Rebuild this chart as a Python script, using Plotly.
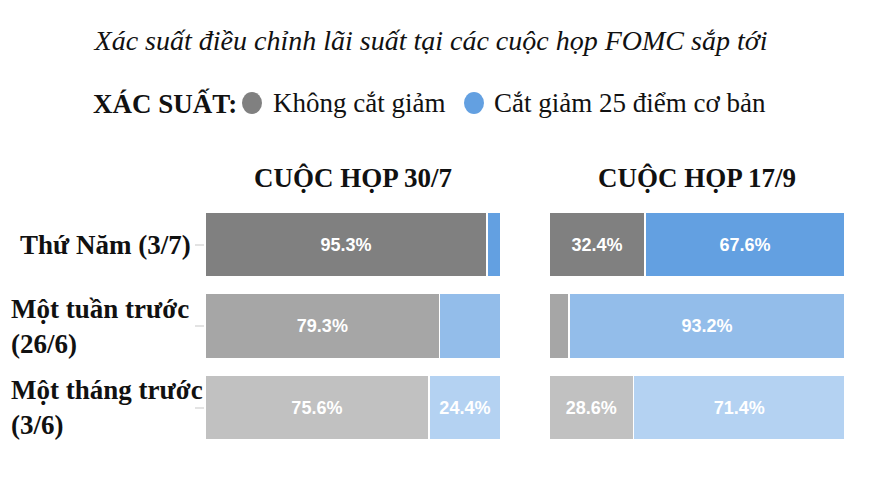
import plotly.graph_objects as go

rows = ["Thứ Năm (3/7)", "Một tuần trước<br>(26/6)", "Một tháng trước<br>(3/6)"]
meetings = ["CUỘC HỌP 30/7", "CUỘC HỌP 17/9"]
no_cut = {"CUỘC HỌP 30/7": [95.3, 79.3, 75.6], "CUỘC HỌP 17/9": [32.4, 6.8, 28.6]}
cut25 = {"CUỘC HỌP 30/7": [4.7, 20.7, 24.4], "CUỘC HỌP 17/9": [67.6, 93.2, 71.4]}
series_names = ["Không cắt giảm", "Cắt giảm 25 điểm cơ bản"]
legend_title = "XÁC SUẤT:"
chart_title = "Xác suất điều chỉnh lãi suất tại các cuộc họp FOMC sắp tới"

grey_shades = ["#808080", "#a6a6a6", "#c1c1c1"]
blue_shades = ["#63a0e1", "#93bdea", "#b4d2f2"]

W, H = 872, 493
SERIF = "Liberation Serif, Times New Roman, serif"
SANS = "Liberation Sans, Arial, sans-serif"
INK = "#111111"

domains = [(205 / W, 501 / W), (549 / W, 845 / W)]
ydom = (1 - 448.25 / H, 1 - 203.75 / H)

fig = go.Figure()

def lbl(v):
    return f"{v}%" if v >= 24 else ""

for i, m in enumerate(meetings):
    xa = "x" if i == 0 else "x2"
    for vals, colors in ((no_cut[m], grey_shades), (cut25[m], blue_shades)):
        fig.add_trace(go.Bar(
            y=rows, x=vals, orientation="h", xaxis=xa, yaxis="y" if i == 0 else "y2",
            marker=dict(color=colors, line=dict(color="white", width=1.5)),
            text=[lbl(v) for v in vals], textposition="inside", insidetextanchor="middle",
            textfont=dict(family=SANS, size=18, color="white", weight="bold"),
            width=0.8, showlegend=False, hoverinfo="skip",
        ))

fig.update_layout(
    width=W, height=H, margin=dict(l=0, r=0, t=0, b=0),
    paper_bgcolor="white", plot_bgcolor="white",
    barmode="stack", bargap=0.2, showlegend=False,
    uniformtext=dict(minsize=10, mode="show"),
    xaxis=dict(domain=domains[0], range=[0, 100], visible=False, anchor="y"),
    xaxis2=dict(domain=domains[1], range=[0, 100], visible=False, anchor="y2"),
    yaxis=dict(domain=ydom, categoryorder="array", categoryarray=rows, range=[2.5, -0.5],
               showticklabels=False, ticks="outside", ticklen=9, tickcolor="#e3e3e3",
               tickwidth=2, showgrid=False, zeroline=False, showline=False, anchor="x"),
    yaxis2=dict(domain=ydom, categoryorder="array", categoryarray=rows, range=[2.5, -0.5],
                visible=False, anchor="x2"),
    title=dict(text=chart_title,
               font=dict(family=SERIF, size=28, color=INK, style="italic"),
               x=431 / W, xanchor="center", y=1 - 40 / H, yanchor="middle"),
)

# legend row (annotations + circle markers)
ly = 1 - 103 / H
fig.add_annotation(text=f"<b>{legend_title}</b>", xref="paper", yref="paper", x=91 / W, y=ly,
                   xanchor="left", yanchor="middle", showarrow=False,
                   font=dict(family=SERIF, size=27, color=INK))
for name, c, cx, tx in zip(series_names, [grey_shades[0], blue_shades[0]], [252, 474], [271, 492]):
    fig.add_shape(type="circle", xref="paper", yref="paper", xsizemode="pixel", ysizemode="pixel",
                  xanchor=cx / W, yanchor=ly, x0=-10, x1=10, y0=-11, y1=11,
                  fillcolor=c, line=dict(width=0))
    fig.add_annotation(text=name, xref="paper", yref="paper", x=tx / W, y=ly,
                       xanchor="left", yanchor="middle", showarrow=False,
                       font=dict(family=SERIF, size=27, color=INK))

for i, m in enumerate(meetings):
    fig.add_annotation(text=f"<b>{m}</b>", xref="paper", yref="paper",
                       x=(domains[i][0] + domains[i][1]) / 2, y=1 - 178 / H,
                       xanchor="center", yanchor="middle", showarrow=False,
                       font=dict(family=SERIF, size=27, color=INK))

label_pos = [(193, "right"), (9, "left"), (9, "left")]
for r, (px, anc) in zip(rows, label_pos):
    fig.add_annotation(text=f"<b>{r}</b>", xref="paper", yref="y", x=px / W, y=r,
                       xanchor=anc, yanchor="middle", align="left", showarrow=False,
                       font=dict(family=SERIF, size=27, color=INK))

fig.write_html("out.html", config={"displayModeBar": False},
               post_script="document.body.style.margin='0';")
